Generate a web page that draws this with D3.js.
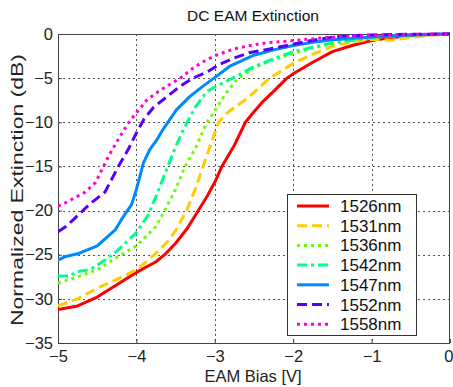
<!DOCTYPE html>
<html><head><meta charset="utf-8">
<script src="https://cdn.jsdelivr.net/npm/d3@7"></script>
<style>body{margin:0;background:#fff}svg{display:block}text{font-family:"Liberation Sans",Arial,sans-serif}</style>
</head><body><svg id="c" width="453" height="387"></svg>
<script>
const title = "DC EAM Extinction";
const xLabel = "EAM Bias [V]";
const yLabel = "Normalized Extinction (dB)";
const xTicks = [-5,-4,-3,-2,-1,0];
const yTicks = [0,-5,-10,-15,-20,-25,-30,-35];
const seriesNames = ["1526nm","1531nm","1536nm","1542nm","1547nm","1552nm","1558nm"];
const colors = ["#ff0000","#ffcc00","#66ff00","#00ff88","#0088ff","#5500ff","#ff00dd"];
const dashes = [null,"10,5","3,4","10,4,3,4",null,"10,5","3,4"];

const s1526 = [[-5,-31.2],[-4.75,-30.8],[-4.5,-29.8],[-4.25,-28.4],[-4,-27.0],[-3.75,-25.8],[-3.64,-25],[-3.5,-23.7],[-3.35,-22.0],[-3.21,-20],[-3.1,-18.4],[-3,-16.8],[-2.91,-15],[-2.75,-12.6],[-2.61,-10],[-2.5,-8.8],[-2.38,-7.6],[-2.25,-6.5],[-2.08,-5],[-2,-4.5],[-1.75,-3.2],[-1.5,-2.0],[-1.25,-1.3],[-1,-0.75],[-0.75,-0.4],[-0.5,-0.2],[-0.25,-0.05],[0,0]];
const s1531 = [[-5,-30.8],[-4.75,-30.0],[-4.5,-28.8],[-4.25,-27.8],[-4,-26.7],[-3.77,-25],[-3.6,-23.5],[-3.5,-22.3],[-3.36,-20],[-3.25,-17.6],[-3.15,-15],[-3,-11.2],[-2.95,-10],[-2.85,-9.0],[-2.75,-8.3],[-2.6,-7.4],[-2.5,-6.6],[-2.3,-5],[-2.1,-3.9],[-2,-3.3],[-1.75,-2.3],[-1.5,-1.4],[-1.25,-0.9],[-1,-0.6],[-0.75,-0.7],[-0.5,-0.4],[-0.25,-0.15],[0,0]];
const s1536 = [[-5,-28.2],[-4.75,-27.5],[-4.5,-26.7],[-4.25,-25.3],[-4,-24.0],[-3.75,-21.8],[-3.64,-20],[-3.5,-17.6],[-3.38,-15],[-3.25,-13.0],[-3.1,-10],[-3,-8.7],[-2.85,-6.6],[-2.7,-5],[-2.5,-3.8],[-2.25,-2.9],[-2,-2.2],[-1.75,-1.6],[-1.5,-1.1],[-1.25,-0.7],[-1,-0.4],[-0.75,-0.2],[-0.5,-0.1],[0,0]];
const s1542 = [[-5,-27.4],[-4.85,-27.4],[-4.75,-26.9],[-4.6,-26.7],[-4.5,-26.2],[-4.4,-25.6],[-4.25,-24.6],[-4,-22.5],[-3.85,-20.5],[-3.75,-18.4],[-3.6,-15.0],[-3.5,-12.8],[-3.4,-10.8],[-3.25,-8.3],[-3.1,-6.5],[-3,-6.0],[-2.75,-4.9],[-2.5,-3.7],[-2.25,-2.8],[-2,-2.0],[-1.75,-1.5],[-1.5,-1.0],[-1.25,-0.7],[-1,-0.45],[-0.75,-0.25],[-0.5,-0.1],[0,0]];
const s1547 = [[-5,-25.6],[-4.9,-25.2],[-4.75,-24.9],[-4.5,-24.0],[-4.27,-22.2],[-4.19,-21.0],[-4.06,-19.3],[-4,-17.6],[-3.91,-14.6],[-3.83,-13.1],[-3.74,-12.0],[-3.66,-10.8],[-3.49,-8.6],[-3.32,-7.1],[-3.15,-5.9],[-2.98,-4.8],[-2.8,-3.6],[-2.5,-2.4],[-2.25,-1.8],[-2,-1.3],[-1.75,-0.95],[-1.5,-0.65],[-1.25,-0.5],[-1,-0.35],[-0.5,-0.1],[0,0]];
const s1552 = [[-5,-22.4],[-4.9,-21.8],[-4.8,-21.0],[-4.6,-19.3],[-4.4,-17.9],[-4.23,-15.0],[-4.1,-13.0],[-4,-11.2],[-3.9,-9.6],[-3.78,-8.3],[-3.61,-7.1],[-3.44,-5.9],[-3.28,-5.0],[-3.1,-4.3],[-2.93,-3.4],[-2.75,-2.7],[-2.55,-2.1],[-2.3,-1.7],[-2.08,-1.3],[-1.75,-0.7],[-1.5,-0.35],[-1.25,-0.2],[-1,-0.1],[-0.5,-0.03],[0,0]];
const s1558 = [[-5,-19.5],[-4.9,-19.1],[-4.8,-18.6],[-4.65,-17.9],[-4.52,-16.8],[-4.42,-15.0],[-4.34,-13.6],[-4.21,-11.6],[-4.08,-9.8],[-3.95,-8.4],[-3.87,-7.5],[-3.75,-6.7],[-3.61,-5.9],[-3.44,-5.0],[-3.27,-3.8],[-3.1,-2.9],[-2.98,-2.4],[-2.76,-1.7],[-2.55,-1.3],[-2.34,-1.0],[-2,-0.75],[-1.7,-0.5],[-1.4,-0.3],[-1,-0.15],[-0.5,-0.05],[0,0]];
const seriesData = [s1526,s1531,s1536,s1542,s1547,s1552,s1558];

const svg = d3.select("#c");
const L = 58, R = 450, T = 34, B = 343;
const x = d3.scaleLinear().domain([-5,0]).range([L,R]);
const y = d3.scaleLinear().domain([-35,0]).range([B,T]);

// grid
const g = svg.append("g");
g.selectAll("line.gx").data(xTicks.slice(1,-1)).enter().append("line")
  .attr("x1",d=>Math.round(x(d))+0.5).attr("x2",d=>Math.round(x(d))+0.5).attr("y1",T).attr("y2",B)
  .attr("stroke","#555").attr("stroke-dasharray","2,3").attr("stroke-width",1);
g.selectAll("line.gy").data(yTicks.slice(1,-1)).enter().append("line")
  .attr("y1",d=>Math.round(y(d))+0.5).attr("y2",d=>Math.round(y(d))+0.5).attr("x1",L).attr("x2",R)
  .attr("stroke","#555").attr("stroke-dasharray","2,3").attr("stroke-width",1);

// axes
const xa = svg.append("g").attr("transform",`translate(0,${B})`)
  .call(d3.axisBottom(x).tickValues(xTicks).tickSize(-4).tickPadding(6).tickFormat(d3.format("d")));
const ya = svg.append("g").attr("transform",`translate(${L},0)`)
  .call(d3.axisLeft(y).tickValues(yTicks).tickSize(-4).tickPadding(5).tickFormat(d3.format("d")));
[xa,ya].forEach(a=>{
  a.selectAll("text").attr("font-size",16.5).attr("fill","#222").attr("font-family","'Liberation Sans',Arial,sans-serif");
  a.selectAll("line").attr("stroke","#444");
  a.select(".domain").remove();
});
xa.selectAll("text").attr("y",19).attr("dy",0);
xa.selectAll(".tick").filter(d=>d===0).select("text").attr("text-anchor","end").attr("x",3);
svg.append("rect").attr("x",L+0.5).attr("y",T+0.5).attr("width",R-L-1).attr("height",B-T)
  .attr("fill","none").attr("stroke","#444").attr("stroke-width",1);

// lines
const line = d3.line().x(d=>x(d[0])).y(d=>y(d[1]));
svg.append("clipPath").attr("id","cp").append("rect").attr("x",L).attr("y",T-3).attr("width",R-L).attr("height",B-T+6);
const lg = svg.append("g").attr("clip-path","url(#cp)");
seriesData.forEach((s,i)=>{
  lg.append("path").attr("d",line(s)).attr("fill","none")
    .attr("stroke",colors[i]).attr("stroke-width",3)
    .attr("stroke-dasharray",dashes[i]).attr("stroke-linejoin","round");
});

// title & labels
svg.append("text").attr("x",253).attr("y",21).attr("text-anchor","middle").attr("font-size",15.5).attr("fill","#111").text(title);
svg.append("text").attr("x",253).attr("y",382).attr("text-anchor","middle").attr("font-size",16.5).attr("fill","#222").text(xLabel);
svg.append("text").attr("transform","translate(23,190) rotate(-90)").attr("text-anchor","middle").attr("font-size",16.5)
  .attr("textLength",272).attr("lengthAdjust","spacingAndGlyphs").attr("fill","#222").text(yLabel);

// legend
const leg = svg.append("g");
leg.append("rect").attr("x",287.5).attr("y",194.5).attr("width",129).attr("height",141).attr("fill","#fff").attr("stroke","#333");
seriesNames.forEach((n,i)=>{
  const yy = 206 + i*19.7;
  leg.append("line").attr("x1",297).attr("x2",329).attr("y1",yy).attr("y2",yy)
    .attr("stroke",colors[i]).attr("stroke-width",3).attr("stroke-dasharray",dashes[i]);
  leg.append("text").attr("x",340).attr("y",yy+6).attr("font-size",17).attr("fill","#111").text(n);
});
</script></body></html>
